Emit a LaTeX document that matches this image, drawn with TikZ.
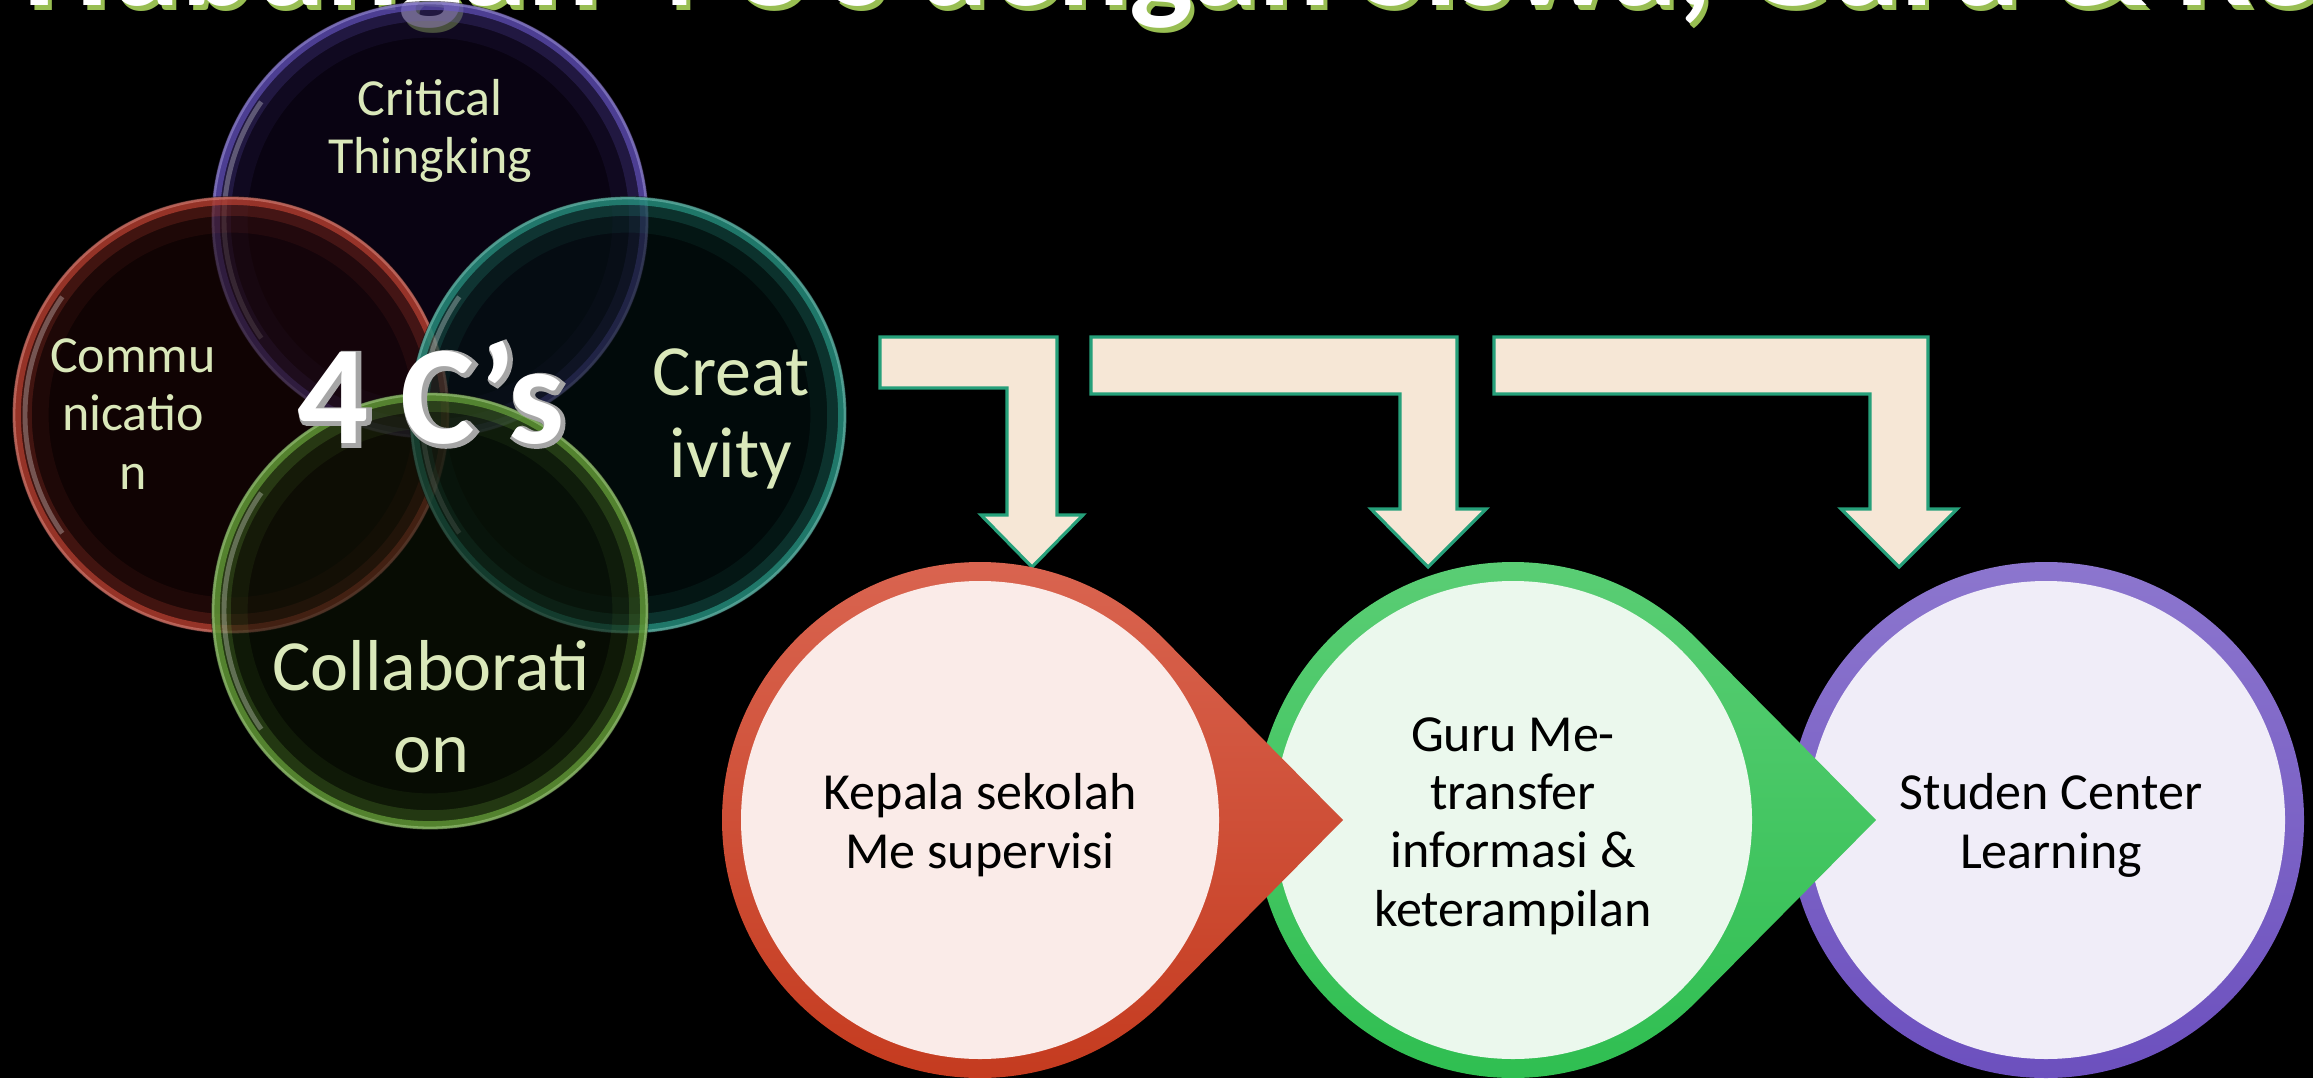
\documentclass[tikz,border=0pt]{standalone}
\usepackage{fontspec}
\setmainfont{Carlito}
\newfontfamily\fatcarlito[FakeBold=4]{Carlito}
\usetikzlibrary{calc}

\definecolor{bubtext}{RGB}{218,232,186}
\definecolor{titlegreen}{RGB}{152,190,82}
\definecolor{arrowfill}{RGB}{246,231,214}
\definecolor{arrowline}{RGB}{38,160,122}
\definecolor{critrim}{RGB}{105,88,200}
\definecolor{critin}{RGB}{16,6,30}
\definecolor{commrim}{RGB}{205,72,55}
\definecolor{commin}{RGB}{28,6,6}
\definecolor{creatrim}{RGB}{45,165,145}
\definecolor{creatin}{RGB}{3,18,18}
\definecolor{collrim}{RGB}{115,180,65}
\definecolor{collin}{RGB}{12,20,5}
\definecolor{redtop}{RGB}{218,102,82}
\definecolor{redbot}{RGB}{196,58,30}
\definecolor{redfill}{RGB}{250,235,232}
\definecolor{greentop}{RGB}{92,206,118}
\definecolor{greenbot}{RGB}{46,190,80}
\definecolor{greenfill}{RGB}{235,248,237}
\definecolor{purptop}{RGB}{140,118,206}
\definecolor{purpbot}{RGB}{108,80,190}
\definecolor{purpfill}{RGB}{240,237,248}

\tikzset{
  titletext/.style={anchor=base west, inner sep=0pt,
    font=\fontsize{38.4}{46}\selectfont\bfseries},
  smallbub/.style={text=bubtext, align=center, anchor=base, inner sep=0pt,
    font=\fontsize{14.8}{16.6}\selectfont},
  bigbub/.style={text=bubtext, align=center, anchor=base, inner sep=0pt,
    font=\fontsize{20.5}{23.2}\selectfont},
  fourcs/.style={anchor=base, inner sep=0pt,
    font=\fontsize{40}{48}\selectfont\bfseries},
  bentarrow/.style={fill=arrowfill, draw=arrowline, line width=0.9pt, line join=miter},
  steptext/.style={text=black, align=center, anchor=base, inner sep=0pt,
    font=\fontsize{14.8}{16.5}\selectfont}
}

\begin{document}
\begin{tikzpicture}[x=0.01cm, y=0.01cm]
  \useasboundingbox (0,0) rectangle (2313,1078);
  \fill[black] (0,0) rectangle (2313,1078);
  \clip (0,0) rectangle (2313,1078);

  % -- title, cut at the top edge ------------------------------------
  \node[titletext, text=titlegreen] (titleshadow) at (27,1067)
    {Hubungan 4 C’s dengan Siswa, Guru \& Kepala Sekolah};
  \node[titletext, text=white] (title) at (23,1072)
    {Hubungan 4 C’s dengan Siswa, Guru \& Kepala Sekolah};

  % -- the four bubbles ----------------------------------------------
  \foreach \cx/\cy/\rim/\inner in {430/858/critrim/critin, 231/663/commrim/commin,
                                   628/663/creatrim/creatin, 430/467/collrim/collin}
  {
    \fill[\inner, fill opacity=0.6] (\cx,\cy) circle (219);
    \draw[\rim, line width=10pt, opacity=0.08] (\cx,\cy) circle (200);
    \draw[\rim, line width=5pt, opacity=0.2] (\cx,\cy) circle (208);
    \draw[\rim, line width=2.2pt, opacity=0.6] (\cx,\cy) circle (214);
    \draw[\rim!60!white, line width=0.8pt, opacity=0.5] (\cx,\cy) circle (217);
    \draw[white, line width=1.4pt, opacity=0.28]
      ($(\cx,\cy)+(145:206)$) arc[start angle=145, end angle=215, radius=206];
  }

  \node[smallbub] (critical) at (430,904) {Critical\\Thingking};
  \node[smallbub] (commu)    at (133,589) {Commu\\nicatio\\n};
  \node[bigbub]   (creat)    at (731,601) {Creat\\ivity};
  \node[bigbub]   (collab)   at (431,306) {Collaborati\\on};

  % 4 C's with grey rim
  \node[fourcs, text=black!35, font=\fatcarlito\fontsize{40}{48}\selectfont\bfseries]
    (fourcsrim) at (433,633) {4 C’s};
  \node[fourcs, text=white] (fourcs) at (431,635) {4 C’s};

  % -- bent arrows ---------------------------------------------------
  \draw[bentarrow] (880,741) -- (1057,741) -- (1057,563) -- (1083,563) -- (1032,511)
    -- (981,563) -- (1007,563) -- (1007,690) -- (880,690) -- cycle;
  \draw[bentarrow] (1091,741) -- (1457,741) -- (1457,569) -- (1486,569) -- (1428,511)
    -- (1371,569) -- (1400,569) -- (1400,684) -- (1091,684) -- cycle;
  \draw[bentarrow] (1494,741) -- (1928,741) -- (1928,569) -- (1957,569) -- (1899,511)
    -- (1841,569) -- (1870,569) -- (1870,684) -- (1494,684) -- cycle;

  % -- step circles, last one first ----------------------------------
  \foreach \cx/\ctop/\cbot/\cin/\tipd in {2046/purptop/purpbot/purpfill/258,
                                          1513/greentop/greenbot/greenfill/363,
                                          980/redtop/redbot/redfill/363}
  {
    \pgfmathsetmacro{\ang}{acos(258/\tipd)}
    \coordinate (c) at (\cx,258);
    \path[top color=\ctop, bottom color=\cbot] (\cx+\tipd,258) -- ($(c)+(\ang:258)$)
      arc[start angle=\ang, end angle=360-\ang, radius=258] -- cycle;
    \fill[\cin] (c) circle (239);
  }

  \node[steptext] (kepala) at (980,210)  {Kepala sekolah\\Me supervisi};
  \node[steptext] (guru)   at (1513,152) {Guru Me-\\transfer\\informasi \&\\keterampilan};
  \node[steptext] (studen) at (2051,210) {Studen Center\\Learning};
\end{tikzpicture}
\end{document}
